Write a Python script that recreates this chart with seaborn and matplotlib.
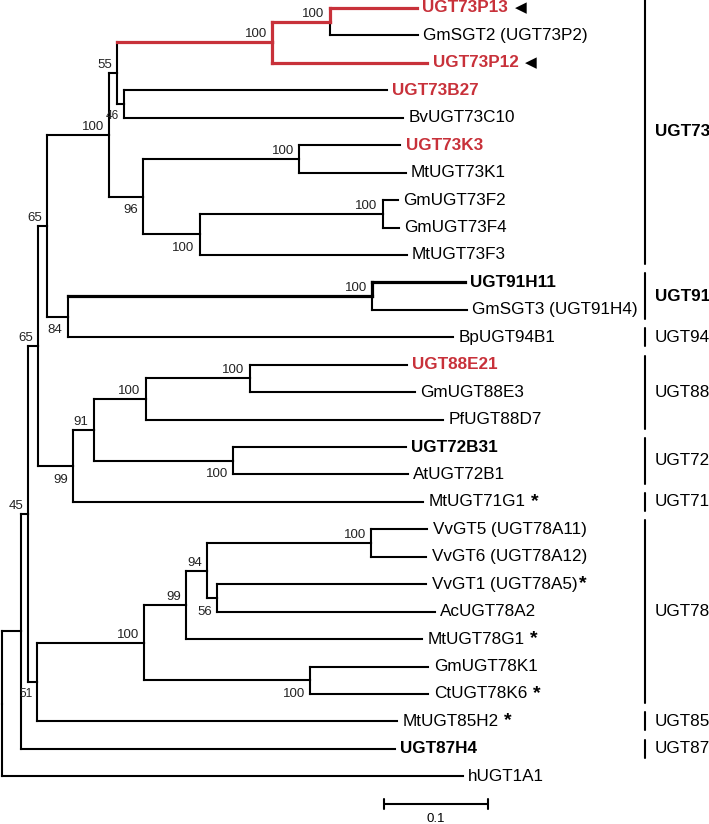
import numpy as np
import pandas as pd
import matplotlib
matplotlib.use("Agg")
import matplotlib.pyplot as plt
import seaborn as sns

# ---------------- data ----------------
leaf_names = ["UGT73P13", "GmSGT2 (UGT73P2)", "UGT73P12", "UGT73B27", "BvUGT73C10",
              "UGT73K3", "MtUGT73K1", "GmUGT73F2", "GmUGT73F4", "MtUGT73F3",
              "UGT91H11", "GmSGT3 (UGT91H4)", "BpUGT94B1", "UGT88E21", "GmUGT88E3",
              "PfUGT88D7", "UGT72B31", "AtUGT72B1", "MtUGT71G1", "VvGT5 (UGT78A11)",
              "VvGT6 (UGT78A12)", "VvGT1 (UGT78A5)", "AcUGT78A2", "MtUGT78G1", "GmUGT78K1",
              "CtUGT78K6", "MtUGT85H2", "UGT87H4", "hUGT1A1"]
leaf_depth = [0.399, 0.400, 0.409, 0.370, 0.386,
              0.383, 0.388, 0.381, 0.382, 0.389,
              0.445, 0.447, 0.434, 0.389, 0.397,
              0.424, 0.388, 0.390, 0.405, 0.409,
              0.408, 0.408, 0.416, 0.404, 0.410,
              0.410, 0.380, 0.378, 0.443]
leaf_style = ["red", "black", "red", "black", "black",
              "black", "black", "black", "black", "black",
              "thick", "black", "black", "black", "black",
              "black", "black", "black", "black", "black",
              "black", "black", "black", "black", "black",
              "black", "black", "black", "black"]
leaf_font = ["redbold", "normal", "redbold", "redbold", "normal",
             "redbold", "normal", "normal", "normal", "normal",
             "bold", "normal", "normal", "redbold", "normal",
             "normal", "bold", "normal", "normal", "normal",
             "normal", "normal", "normal", "normal", "normal",
             "normal", "normal", "bold", "normal"]
leaf_mark = ["◀", "", "◀", "", "", "", "", "", "", "",
             "", "", "", "", "", "", "", "", "*", "",
             "", "*", "", "*", "", "*", "*", "", ""]

node_names = ["root", "n45", "nA", "n51", "n78", "n99b", "n94", "nVv", "n56", "nK78",
              "n65low", "n99", "n91", "n88", "n88E", "n72", "n65up", "n84", "n91n",
              "n100a", "n55", "nP", "nP13", "n46", "n96", "nK", "n73F", "nF"]
node_depth = [0.000, 0.018, 0.025, 0.034, 0.137, 0.177, 0.197, 0.355, 0.207, 0.296,
              0.035, 0.068, 0.088, 0.138, 0.238, 0.222, 0.043, 0.063, 0.356,
              0.103, 0.111, 0.260, 0.315, 0.117, 0.136, 0.286, 0.190, 0.366]
node_children = [["n45", "hUGT1A1"], ["nA", "UGT87H4"], ["n65low", "n51"],
                 ["n78", "MtUGT85H2"], ["n99b", "nK78"], ["n94", "MtUGT78G1"],
                 ["nVv", "n56"], ["VvGT5 (UGT78A11)", "VvGT6 (UGT78A12)"],
                 ["VvGT1 (UGT78A5)", "AcUGT78A2"], ["GmUGT78K1", "CtUGT78K6"],
                 ["n65up", "n99"], ["n91", "MtUGT71G1"], ["n88", "n72"],
                 ["n88E", "PfUGT88D7"], ["UGT88E21", "GmUGT88E3"], ["UGT72B31", "AtUGT72B1"],
                 ["n100a", "n84"], ["n91n", "BpUGT94B1"], ["UGT91H11", "GmSGT3 (UGT91H4)"],
                 ["n55", "n96"], ["nP", "n46"], ["nP13", "UGT73P12"],
                 ["UGT73P13", "GmSGT2 (UGT73P2)"], ["UGT73B27", "BvUGT73C10"],
                 ["nK", "n73F"], ["UGT73K3", "MtUGT73K1"], ["nF", "MtUGT73F3"],
                 ["GmUGT73F2", "GmUGT73F4"]]
node_support = ["", "", "45", "51", "100", "99", "94", "100", "56", "100",
                "65", "99", "91", "100", "100", "100", "65", "84", "100",
                "100", "55", "100", "100", "46", "96", "100", "100", "100"]
node_style = ["black"] * len(node_names)
node_style[node_names.index("nP")] = "red"
node_style[node_names.index("nP13")] = "red"
node_style[node_names.index("n91n")] = "thick"

group_names = ["UGT73", "UGT91", "UGT94", "UGT88", "UGT72", "UGT71", "UGT78", "UGT85", "UGT87"]
group_first = [0, 10, 12, 13, 16, 18, 19, 26, 27]
group_last = [9, 11, 12, 15, 17, 18, 25, 26, 27]
group_bold = [True, True, False, False, False, False, False, False, False]

scale_length = 0.1

# ---------------- layout ----------------
RED = "#c8313a"
PX = 1040.0           # pixels per unit distance
ROW = 27.44           # pixels per leaf row

xpos, ypos, style = {}, {}, {}
for i, n in enumerate(leaf_names):
    xpos[n] = leaf_depth[i]
    ypos[n] = float(i)
    style[n] = leaf_style[i]
for n, d, s in zip(node_names, node_depth, node_style):
    xpos[n] = d
    style[n] = s
children = dict(zip(node_names, node_children))


def get_y(n):
    if n in ypos:
        return ypos[n]
    c = children[n]
    ypos[n] = (get_y(c[0]) + get_y(c[-1])) / 2
    return ypos[n]


get_y("root")

rows = []
seg = 0
for n in node_names:
    xn, yn = xpos[n], ypos[n]
    for c in children[n]:
        vs = style[c] if style[c] == style[n] else "black"
        rows += [dict(seg=seg, x=xn, y=yn, st=vs), dict(seg=seg, x=xn, y=ypos[c], st=vs)]
        seg += 1
        rows += [dict(seg=seg, x=xn, y=ypos[c], st=style[c]), dict(seg=seg, x=xpos[c], y=ypos[c], st=style[c])]
        seg += 1
segs = pd.DataFrame(rows)

# ---------------- draw ----------------
sns.set_theme(style="white")
plt.rcParams["font.family"] = ["Liberation Sans", "DejaVu Sans"]
plt.rcParams["text.color"] = "black"

fig = plt.figure(figsize=(7.09, 8.24), dpi=100)
ax = fig.add_axes([0, 0, 1, 1])

styles = {"black": ("black", 1.5), "thick": ("black", 2.3), "red": (RED, 2.3)}
for st in ["black", "thick", "red"]:
    sub = segs[segs.st == st]
    if len(sub):
        col, lw = styles[st]
        sns.lineplot(data=sub, x="x", y="y", units="seg", estimator=None, sort=False,
                     color=col, linewidth=lw, ax=ax, legend=False,
                     solid_capstyle="projecting")

# tip labels
for i, n in enumerate(leaf_names):
    f = leaf_font[i]
    color = RED if f == "redbold" else "black"
    weight = "bold" if f in ("redbold", "bold") else "normal"
    t = ax.annotate(n, (xpos[n], ypos[n]), xytext=(3.8, 0), textcoords="offset points",
                    ha="left", va="center", fontsize=12.3, color=color, fontweight=weight)
    m = leaf_mark[i]
    if m == "◀":
        ax.annotate(m, xy=(1, 0.5), xycoords=t, xytext=(5, 0),
                    textcoords="offset points", ha="left", va="center",
                    fontsize=11, color="black", family="DejaVu Sans")
    elif m == "*":
        gap = 1.5 if ")" in n else 4
        ax.annotate(m, xy=(1, 1), xycoords=t, xytext=(gap, 1),
                    textcoords="offset points", ha="left", va="top",
                    fontsize=14, fontweight="bold", color="black")

# bootstrap values
for n, sup in zip(node_names, node_support):
    if not sup:
        continue
    parent = [p for p in node_names if n in children[p]][0]
    first = children[parent][0] == n
    small = sup in ("46", "51")
    fs = 8.5 if small else 9.5
    dy = 3.6 if first else (-11.0 if small else -12.0)
    ax.annotate(sup, (xpos[n], ypos[n]), xytext=(-3.6, dy), textcoords="offset points",
                ha="right", va="baseline", fontsize=fs, color="#222222")

# group brackets
gx = (645 - 2) / PX
for name, a, b, bold in zip(group_names, group_first, group_last, group_bold):
    ax.plot([gx, gx], [a - 0.33, b + 0.33], color="black", lw=1.5)
    ax.text(gx + 10 / PX, (a + b) / 2, name, ha="left", va="center", fontsize=12.3,
            color="black", fontweight="bold" if bold else "normal")

# scale bar
sx0 = (384 - 2) / PX
sy = (804 - 8) / ROW
ax.plot([sx0, sx0 + scale_length], [sy, sy], color="black", lw=1.5)
for xx in (sx0, sx0 + scale_length):
    ax.plot([xx, xx], [sy - 0.18, sy + 0.18], color="black", lw=1.5)
ax.text(sx0 + scale_length / 2, (819 - 8) / ROW, "0.1", ha="center", va="center",
        fontsize=9.5, color="black")

ax.set_xlim(-2 / PX, (709 - 2) / PX)
ax.set_ylim((824 - 8) / ROW, -8 / ROW)
ax.set_axis_off()

fig.savefig("out.png", dpi=100)
